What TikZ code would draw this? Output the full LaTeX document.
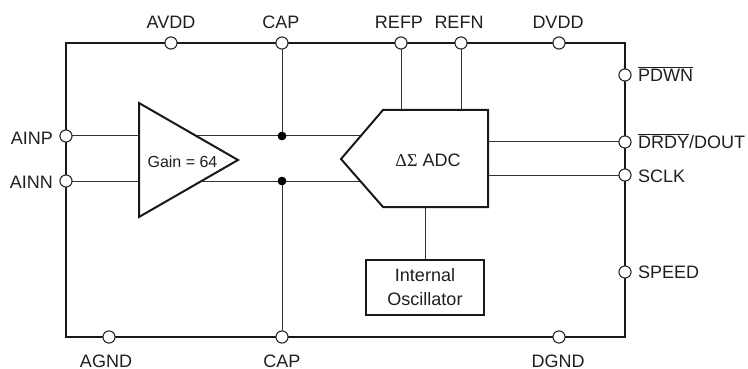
\documentclass[tikz,border=0pt]{standalone}
\usepackage{fontspec}
\setmainfont{Liberation Sans}
\newfontfamily\greekser{Liberation Serif}
\newcommand{\barred}[1]{\leavevmode\vbox{\hrule height 1.1pt\kern 1.5pt\hbox{#1}}}
\tikzset{
  x=1pt,y=-1pt,
  lbl/.style={inner sep=0pt,font=\fontsize{18}{18}\selectfont,text=black!88},
  lblr/.style={lbl,anchor=base west},
  pin/.style={circle,draw=black!85,fill=white,line width=0.9pt,minimum size=12pt,inner sep=0pt},
  dot/.style={circle,fill=black,minimum size=8.5pt,inner sep=0pt},
  thick box/.style={draw=black!90,line width=2pt,line join=miter},
  wire/.style={draw=black!80,line width=1pt},
}
\begin{document}
\begin{tikzpicture}
\useasboundingbox (0,0) rectangle (748,369);
% package outline
\coordinate (tl) at (66,43); \coordinate (tr) at (625,43);
\coordinate (bl) at (66,337); \coordinate (br) at (625,337);
\draw[thick box] (tl) -- (tr) -- (br) -- (bl) -- cycle;
% block corners
\coordinate (ampT) at (139,103); \coordinate (ampB) at (139,217); \coordinate (ampO) at (238,160);
\coordinate (adcTL) at (383,110); \coordinate (adcTR) at (488,110);
\coordinate (adcBR) at (488,207); \coordinate (adcBL) at (383,207); \coordinate (adcI) at (341,159);
% pins
\node[pin] (avdd) at (171,43) {};
\node[pin] (capt) at (282,43) {};
\node[pin] (refp) at (401,43) {};
\node[pin] (refn) at (461,43) {};
\node[pin] (dvdd) at (559,43) {};
\node[pin] (pdwn) at (625,75) {};
\node[pin] (drdy) at (625,142) {};
\node[pin] (sclk) at (625,175) {};
\node[pin] (speed) at (625,272) {};
\node[pin] (agnd) at (109,337) {};
\node[pin] (capb) at (282,337) {};
\node[pin] (dgnd) at (559,337) {};
\node[pin] (ainp) at (66,136) {};
\node[pin] (ainn) at (66,181) {};
\node[dot] (jp) at (282,136) {};
\node[dot] (jn) at (282,181) {};
% wires, beneath the blocks
\coordinate (adcInP) at (400,136); \coordinate (adcInN) at (400,181);
\draw[wire] (ainp) -- (jp) -- (adcInP);
\draw[wire] (ainn) -- (jn) -- (adcInN);
\draw[wire] (capt) -- (jp);
\draw[wire] (capb) -- (jn);
\draw[wire] (refp) -- (refp |- adcTL);
\draw[wire] (refn) -- (refn |- adcTL);
\draw[wire] (drdy) -- (drdy -| adcTR);
\draw[wire] (sclk) -- (sclk -| adcTR);
% blocks
\draw[thick box,fill=white] (ampT) -- (ampO) -- (ampB) -- cycle;
\draw[thick box,fill=white] (adcI) -- (adcTL) -- (adcTR) -- (adcBR) -- (adcBL) -- cycle;
\node[thick box,fill=white,minimum width=118pt,minimum height=55pt,inner sep=0pt,
      align=center,font=\fontsize{18}{24}\selectfont,text=black!88] (osc) at (425,287.5) {Internal\\Oscillator};
\coordinate (adcS) at (osc.north |- adcBL);
\draw[wire] (adcS) -- (osc.north);
% repaint pins over the outline
\foreach \n in {avdd,capt,refp,refn,dvdd,pdwn,drdy,sclk,speed,agnd,capb,dgnd,ainp,ainn}
  \node[pin] at (\n) {};
\node[dot] at (jp) {};
\node[dot] at (jn) {};
% texts
\node[inner sep=0pt,font=\fontsize{16}{16}\selectfont,text=black!88] (gain) at (182.5,162) {Gain = 64};
\node[inner sep=0pt,font=\fontsize{18}{18}\selectfont,text=black!88] (adcl) at (428,160) {{\greekser ΔΣ} ADC};
\node[lbl] (lavdd) at (171,22) {AVDD};
\node[lbl] (lcapt) at (281,22) {CAP};
\node[lbl] (lrefp) at (399,22) {REFP};
\node[lbl] (lrefn) at (459,22) {REFN};
\node[lbl] (ldvdd) at (558,22) {DVDD};
\node[lbl,anchor=east] (lainp) at (53,138) {AINP};
\node[lbl,anchor=east] (lainn) at (53,182) {AINN};
\node[lblr] (lpdwn) at (638,82) {\barred{PDWN}};
\node[lblr] (ldrdy) at (638,148.5) {\barred{DRDY}/DOUT};
\node[lblr] (lsclk) at (638,182.5) {SCLK};
\node[lblr] (lspeed) at (638,278.5) {SPEED};
\node[lbl] (lagnd) at (106,361) {AGND};
\node[lbl] (lcapb) at (282,361) {CAP};
\node[lbl] (ldgnd) at (558,361) {DGND};
\end{tikzpicture}
\end{document}
